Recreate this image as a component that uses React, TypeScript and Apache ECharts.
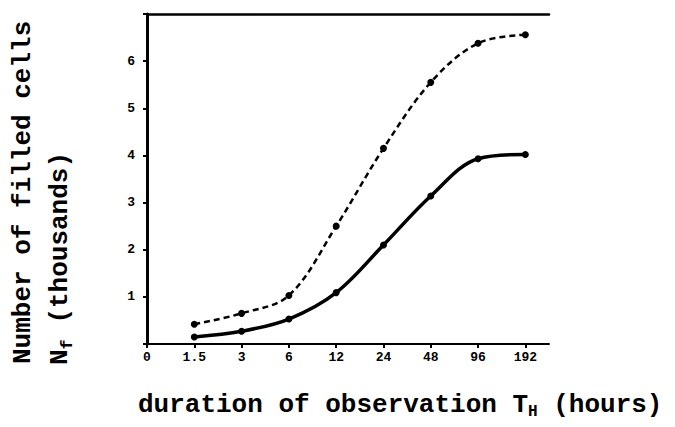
import React, { useEffect, useRef } from "react";
import * as echarts from "echarts";

// Observation durations in hours (equally spaced, doubling each step)
const durations = ["0", "1.5", "3", "6", "12", "24", "48", "96", "192"];
// Filled cells, thousands — upper (dashed) curve
const filledUpper = [0.42, 0.65, 1.03, 2.5, 4.15, 5.55, 6.38, 6.56];
// Filled cells, thousands — lower (solid) curve
const filledLower = [0.15, 0.27, 0.53, 1.09, 2.1, 3.14, 3.93, 4.02];
// Y tick labels shown
const yTickLabels = ["1", "2", "3", "4", "5", "6"];

const FONT = "'Liberation Mono', 'DejaVu Sans Mono', monospace";

export default function App() {
  const ref = useRef<HTMLDivElement>(null);

  useEffect(() => {
    if (!ref.current) return;
    const chart = echarts.init(ref.current, null, { renderer: "svg" });

    const toPairs = (vals: number[]) => vals.map((v, i) => [i + 1, v]);

    const tickLabelStyle = {
      color: "#000",
      fontFamily: FONT,
      fontWeight: "bold" as const,
      fontSize: 13,
    };

    chart.setOption({
      animation: false,
      backgroundColor: "#fff",
      grid: { left: 147, right: 126, top: 14, bottom: 83 },
      xAxis: [
        {
          type: "value",
          position: "bottom",
          min: 0,
          max: 8.5,
          interval: 1,
          splitLine: { show: false },
          axisLine: { lineStyle: { color: "#000", width: 2 } },
          axisTick: { show: true, length: 4, lineStyle: { color: "#000", width: 2 } },
          axisLabel: {
            ...tickLabelStyle,
            margin: 7,
            showMaxLabel: false,
            formatter: (v: number) =>
              Number.isInteger(v) && durations[v] !== undefined ? durations[v] : "",
          },
        },
        {
          type: "value",
          position: "top",
          min: 0,
          max: 8.5,
          splitLine: { show: false },
          axisLine: { lineStyle: { color: "#000", width: 2.5 } },
          axisTick: { show: false },
          axisLabel: { show: false },
        },
      ],
      yAxis: {
        type: "value",
        min: 0,
        max: 7,
        interval: 1,
        splitLine: { show: false },
        axisLine: { lineStyle: { color: "#000", width: 3 } },
        axisTick: { show: true, length: 4, lineStyle: { color: "#000", width: 2 } },
        axisLabel: {
          ...tickLabelStyle,
          margin: 12,
          formatter: (v: number) =>
            v >= 1 && v <= yTickLabels.length ? yTickLabels[v - 1] : "",
        },
      },
      series: [
        {
          type: "line",
          data: toPairs(filledUpper),
          smooth: 0.35,
          symbol: "circle",
          symbolSize: 7,
          itemStyle: { color: "#000" },
          lineStyle: { color: "#000", width: 2.5, type: [6, 4] },
        },
        {
          type: "line",
          data: toPairs(filledLower),
          smooth: 0.35,
          symbol: "circle",
          symbolSize: 7,
          itemStyle: { color: "#000" },
          lineStyle: { color: "#000", width: 3.5 },
        },
      ],
      graphic: [
        {
          type: "text",
          left: 138,
          top: 390,
          style: {
            text: "{a|duration of observation T}{s|H}{a| (hours)}",
            fill: "#000",
            rich: {
              a: { fontFamily: FONT, fontWeight: "bold", fontSize: 26, lineHeight: 30, fill: "#000" },
              s: {
                fontFamily: FONT,
                fontWeight: "bold",
                fontSize: 16,
                lineHeight: 30,
                fill: "#000",
                padding: [14, 0, 0, 0],
              },
            },
          },
        },
        {
          type: "text",
          x: 23,
          y: 364,
          rotation: Math.PI / 2,
          style: {
            text: "Number of filled cells",
            fill: "#000",
            font: `bold 26px ${FONT}`,
            align: "left",
            verticalAlign: "middle",
          },
        },
        {
          type: "text",
          x: 60,
          y: 365,
          rotation: Math.PI / 2,
          style: {
            text: "{a|N}{s|f}{a| (thousands)}",
            fill: "#000",
            align: "left",
            verticalAlign: "middle",
            rich: {
              a: { fontFamily: FONT, fontWeight: "bold", fontSize: 26, lineHeight: 30, fill: "#000" },
              s: {
                fontFamily: FONT,
                fontWeight: "bold",
                fontSize: 17,
                lineHeight: 30,
                fill: "#000",
                padding: [14, 0, 0, 0],
              },
            },
          },
        },
      ],
    });

    return () => chart.dispose();
  }, []);

  return (
    <div
      ref={ref}
      style={{ position: "fixed", left: 0, top: 0, width: 675, height: 427, background: "#fff" }}
    />
  );
}
